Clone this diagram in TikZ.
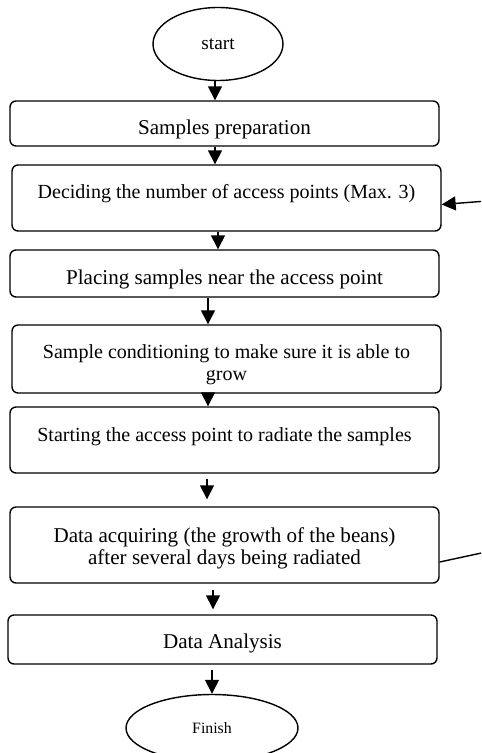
\documentclass[tikz,border=0pt]{standalone}
\usepackage{fontspec}
\setmainfont{Liberation Serif}
\usetikzlibrary{shapes.geometric,arrows.meta,positioning}

% box text, moved up/down without changing the box
\newcommand{\boxtext}[2]{\raisebox{#1}[\height][\depth]{\begin{tabular}{@{}c@{}}#2\end{tabular}}}

\begin{document}
\begin{tikzpicture}[
    x=0.02cm, y=-0.02cm,
    every node/.style={font=\fontsize{12}{13}\selectfont},
    box/.style={rectangle, draw, line width=0.8pt, rounded corners=0.12cm, minimum width=8.58cm, align=center, inner sep=0pt},
    smallbox/.style={box, font=\fontsize{11.4}{12.2}\selectfont},
    term/.style={ellipse, draw, line width=0.8pt, inner sep=0pt},
    arrow/.style={-{Triangle[length=0.28cm, width=0.28cm]}, line width=0.8pt},
]
\useasboundingbox (0,0) rectangle (481,753);
\clip (0,0) rectangle (481,753);

% Terminals
\node[term, minimum width=2.6cm, minimum height=1.46cm, font=\fontsize{11}{13}\selectfont] (start) at (218,44) {start};
\node[term, minimum width=3.44cm, minimum height=1.34cm, font=\fontsize{9}{11}\selectfont] (finish) at (212,728) {Finish};

% Process steps
\node[box, minimum height=0.9cm] (prep) at (224.5,123.5) {\boxtext{-0.12cm}{Samples preparation}};
\node[smallbox, minimum height=1.32cm] (decide) at (226.5,198) {\boxtext{0.08cm}{Deciding the number of access points (Max. 3)}};
\node[box, minimum height=0.94cm] (place) at (224.5,273.5) {\boxtext{-0.12cm}{Placing samples near the access point}};
\node[smallbox, minimum height=1.36cm] (cond) at (226.5,359) {\boxtext{-0.12cm}{Sample conditioning to make sure it is able to\\grow}};
\node[smallbox, minimum height=1.32cm] (radiate) at (224.5,440) {\boxtext{0.06cm}{Starting the access point to radiate the samples}};
\node[box, minimum height=1.52cm] (acquire) at (224.5,545) {\boxtext{-0.08cm}{Data acquiring (the growth of the beans)\\after several days being radiated}};
\node[box, minimum height=0.98cm] (analysis) at (222.5,639.5) {\boxtext{-0.08cm}{Data Analysis}};

% Main flow
\draw[arrow] (215,0 |- start.south) -- (215,0 |- prep.north);
\draw[arrow] (215,0 |- prep.south) -- (215,0 |- decide.north);
\draw[arrow] (218,0 |- decide.south) -- (218,0 |- place.north);
\draw[arrow] (208,0 |- place.south) -- (208,0 |- cond.north);
\draw[arrow] (208,0 |- cond.south) -- (208,0 |- radiate.north);
\draw[arrow, shorten <=0.1cm, shorten >=0.14cm] (207,0 |- radiate.south) -- (207,0 |- acquire.north);
\draw[arrow, shorten <=0.12cm, shorten >=0.1cm] (213,0 |- acquire.south) -- (213,0 |- analysis.north);
\draw[arrow, shorten <=0.1cm] (212,0 |- analysis.south) -- (finish.north);

% Feedback loop (runs off the right edge)
\coordinate (fb_low) at (500,549);
\coordinate (fb_high) at (500,200);
\draw[arrow] (acquire.east |- 0,562) -- (fb_low) -- (fb_high) -- (decide.east |- 0,204.5);

\end{tikzpicture}
\end{document}
